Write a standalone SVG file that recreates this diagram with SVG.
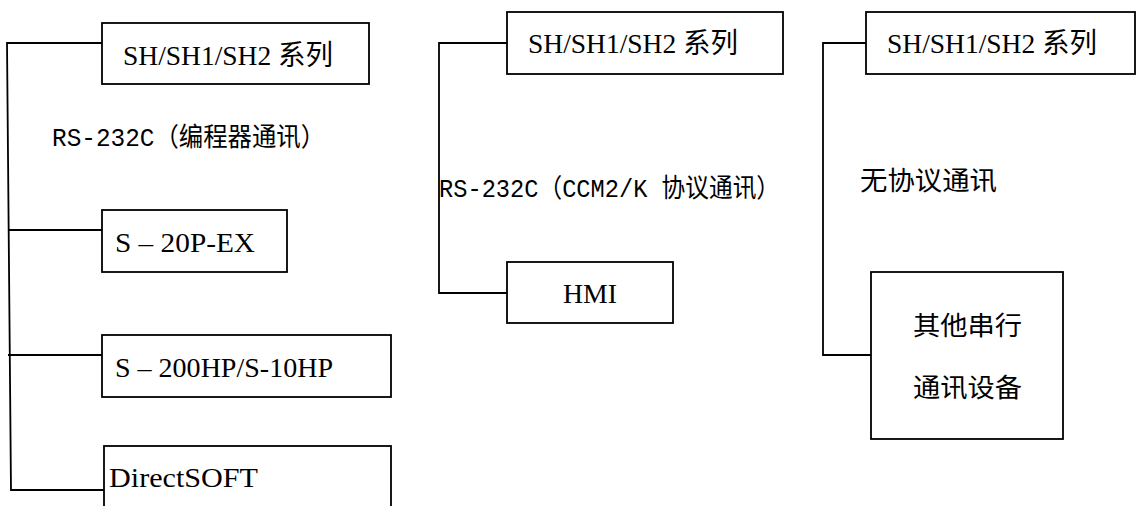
<svg xmlns="http://www.w3.org/2000/svg" width="1137" height="506" viewBox="0 0 1137 506">
<style>
.box{fill:#fff;stroke:#000;stroke-width:1.8}
.ln{fill:none;stroke:#000;stroke-width:1.8}
.t{font-family:"Liberation Serif","Noto Sans CJK SC",serif;font-size:28px;fill:#000}
.c{font-family:"Noto Sans CJK SC",sans-serif;font-size:26px;fill:#000}
.l{font-family:"Liberation Mono","Noto Sans CJK SC",monospace;font-size:26px;fill:#000}
</style>
<rect width="1137" height="506" fill="#fff"/>
<g id="connectors">
<polyline class="ln" points="102,43 7,43 11,490 105,490"/>
<line class="ln" x1="8" y1="230" x2="102" y2="230"/>
<line class="ln" x1="8" y1="355" x2="102" y2="355"/>
<polyline class="ln" points="507,43 439,43 439,293 507,293"/>
<polyline class="ln" points="866,43 823,43 823,355 871,355"/>
</g>
<g id="n-sh-left">
<rect class="box" x="102" y="23" width="267" height="61"/>
<text class="t" x="123" y="65" textLength="210" lengthAdjust="spacingAndGlyphs">SH/SH1/SH2 系列</text>
</g>
<g id="label-left">
<text class="l" x="52" y="146" textLength="273" lengthAdjust="spacingAndGlyphs">RS-232C（编程器通讯）</text>
</g>
<g id="n-s20p">
<rect class="box" x="102" y="210" width="185" height="62"/>
<text class="t" x="115" y="252" textLength="140" lengthAdjust="spacingAndGlyphs">S – 20P-EX</text>
</g>
<g id="n-s200hp">
<rect class="box" x="102" y="335" width="289" height="62"/>
<text class="t" x="115" y="377" textLength="218" lengthAdjust="spacingAndGlyphs">S – 200HP/S-10HP</text>
</g>
<g id="n-directsoft">
<rect class="box" x="104" y="446" width="287" height="80"/>
<text class="t" x="109" y="487" textLength="149" lengthAdjust="spacingAndGlyphs">DirectSOFT</text>
</g>
<g id="n-sh-mid">
<rect class="box" x="507" y="12" width="276" height="62"/>
<text class="t" x="528" y="53" textLength="210" lengthAdjust="spacingAndGlyphs">SH/SH1/SH2 系列</text>
</g>
<g id="label-mid">
<text class="l" x="439" y="197" textLength="341" lengthAdjust="spacingAndGlyphs">RS-232C（CCM2/K 协议通讯）</text>
</g>
<g id="n-hmi">
<rect class="box" x="507" y="262" width="166" height="61"/>
<text class="t" x="563" y="303" textLength="54" lengthAdjust="spacingAndGlyphs">HMI</text>
</g>
<g id="n-sh-right">
<rect class="box" x="866" y="12" width="269" height="62"/>
<text class="t" x="887" y="53" textLength="210" lengthAdjust="spacingAndGlyphs">SH/SH1/SH2 系列</text>
</g>
<g id="label-right">
<text class="c" x="860" y="190" textLength="137" lengthAdjust="spacingAndGlyphs">无协议通讯</text>
</g>
<g id="n-other">
<rect class="box" x="871" y="272" width="192" height="167"/>
<text class="c" x="913" y="335" textLength="109" lengthAdjust="spacingAndGlyphs">其他串行</text>
<text class="c" x="913" y="397" textLength="109" lengthAdjust="spacingAndGlyphs">通讯设备</text>
</g>
</svg>
